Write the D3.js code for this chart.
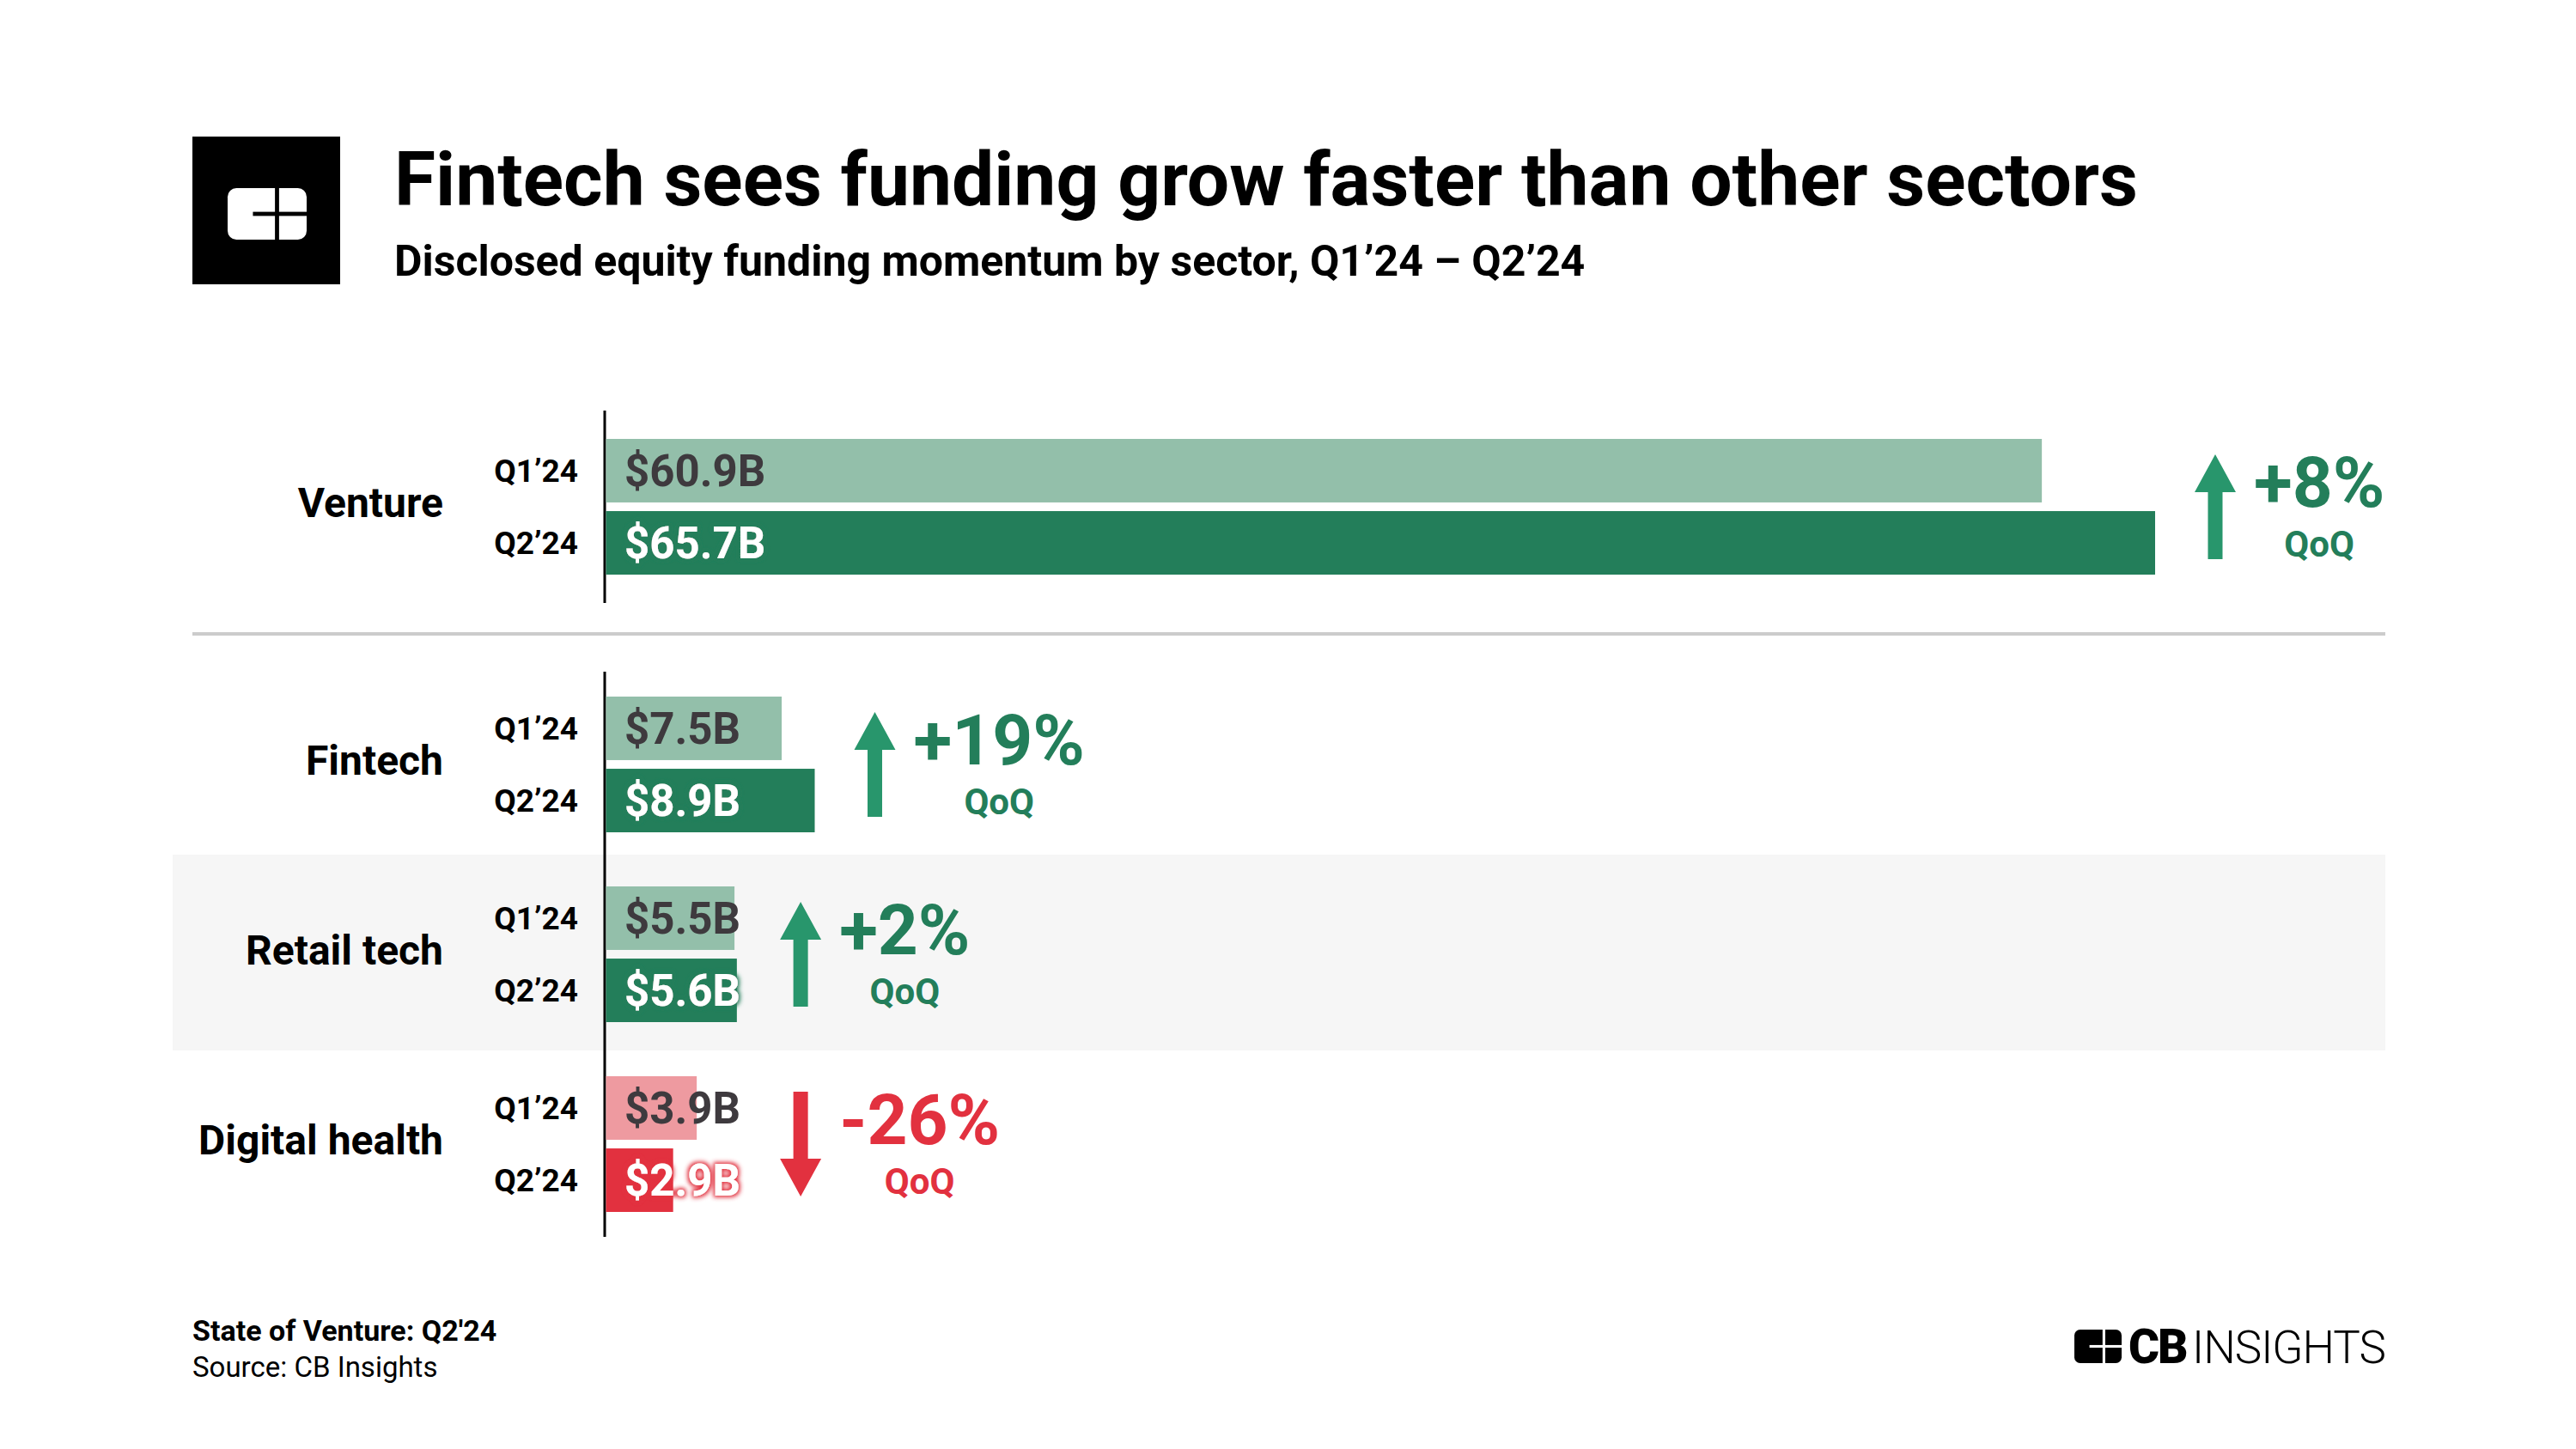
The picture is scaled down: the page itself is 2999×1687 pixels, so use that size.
<!DOCTYPE html>
<html><head><meta charset="utf-8">
<script src="https://cdn.jsdelivr.net/npm/d3@7"></script>
<style>html,body{margin:0;padding:0;background:#fff;} text{font-family:Roboto,"Noto Sans",sans-serif;}</style>
</head><body>
<script>
// ---- data ----
const sectors = ["Venture", "Fintech", "Retail tech", "Digital health"];
const q1Values = [60.9, 7.5, 5.5, 3.9];
const q2Values = [65.7, 8.9, 5.6, 2.9];
const qoqChange = [8, 19, 2, -26];
const periods = ["Q1’24", "Q2’24"];
const valueLabels1 = ["$60.9B", "$7.5B", "$5.5B", "$3.9B"];
const valueLabels2 = ["$65.7B", "$8.9B", "$5.6B", "$2.9B"];
const changeLabels = ["+8%", "+19%", "+2%", "-26%"];

const W = 2999, H = 1687;
const svg = d3.select("body").append("svg").attr("width", W).attr("height", H);

const C = {
  q1Up: "#93bfaa", q2Up: "#237e5a", arrowUp: "#28966c", textUp: "#237e5a",
  q1Down: "#ee9aa0", q2Down: "#e2313f", arrowDown: "#e2313f", textDown: "#e2313f",
  dark: "#3e3a3e"
};

const defs = svg.append("defs");
function glow(id, color) {
  const f = defs.append("filter").attr("id", id).attr("x", "-20%").attr("y", "-40%").attr("width", "140%").attr("height", "180%");
  f.append("feMorphology").attr("in", "SourceAlpha").attr("operator", "dilate").attr("radius", 2).attr("result", "d");
  f.append("feGaussianBlur").attr("in", "d").attr("stdDeviation", 2.5).attr("result", "b");
  f.append("feFlood").attr("flood-color", color).attr("result", "c");
  f.append("feComposite").attr("in", "c").attr("in2", "b").attr("operator", "in").attr("result", "s");
  const m = f.append("feMerge");
  m.append("feMergeNode").attr("in", "s");
  m.append("feMergeNode").attr("in", "SourceGraphic");
}
glow("glowUp", C.q2Up);
glow("glowDown", C.q2Down);

// ---- scales ----
const x = d3.scaleLinear().domain([0, d3.max(q2Values.concat(q1Values))]).range([704, 2509]);
const yLower = d3.scalePoint().domain(sectors.slice(1)).range([890, 1332]);
const yCenter = s => s === sectors[0] ? 590 : yLower(s);
const band = d3.scaleBand().domain(periods).range([-79, 79]).paddingInner(0.12);

// ---- header ----
function cbIcon(g, x0, y0, w, h, fg, bg) {
  g.append("rect").attr("x", x0).attr("y", y0).attr("width", w).attr("height", h)
    .attr("rx", h * 0.17).attr("fill", fg);
  const lw = Math.max(2, h * 0.08);
  g.append("rect").attr("x", x0 + w * 0.625 - lw / 2).attr("y", y0).attr("width", lw).attr("height", h).attr("fill", bg);
  g.append("rect").attr("x", x0 + w * 0.32).attr("y", y0 + h / 2 - lw / 2).attr("width", w * 0.68).attr("height", lw).attr("fill", bg);
}
svg.append("rect").attr("x", 224).attr("y", 159).attr("width", 172).attr("height", 172).attr("fill", "#000");
cbIcon(svg.append("g"), 265, 219, 92, 60, "#fff", "#000");

svg.append("text").attr("x", 459).attr("y", 239).attr("font-size", 87.5).attr("font-weight", 700)
  .attr("fill", "#000").text("Fintech sees funding grow faster than other sectors");
svg.append("text").attr("x", 459).attr("y", 321).attr("font-size", 50).attr("font-weight", 700)
  .attr("fill", "#000").text("Disclosed equity funding momentum by sector, Q1’24 – Q2’24");

// ---- backgrounds & rules ----
svg.append("rect").attr("x", 201).attr("y", yCenter(sectors[2]) - 116).attr("width", 2777 - 201).attr("height", 228)
  .attr("fill", "#f6f6f6");
svg.append("line").attr("x1", 224).attr("x2", 2777).attr("y1", 738).attr("y2", 738)
  .attr("stroke", "#cccccc").attr("stroke-width", 4);

// axis lines
svg.append("line").attr("x1", x(0)).attr("x2", x(0)).attr("y1", yCenter(sectors[0]) - 112).attr("y2", yCenter(sectors[0]) + 112)
  .attr("stroke", "#000").attr("stroke-width", 3);
svg.append("line").attr("x1", x(0)).attr("x2", x(0)).attr("y1", yCenter(sectors[1]) - 108).attr("y2", yCenter(sectors[3]) + 108)
  .attr("stroke", "#000").attr("stroke-width", 3);

// ---- groups ----
const rows = sectors.map((s, i) => ({
  sector: s, vals: [q1Values[i], q2Values[i]], labels: [valueLabels1[i], valueLabels2[i]],
  change: qoqChange[i], changeLabel: changeLabels[i]
}));

rows.forEach(r => {
  const cy = yCenter(r.sector);
  const up = r.change >= 0;
  const g = svg.append("g");
  g.append("text").attr("x", 516).attr("y", cy + 12).attr("text-anchor", "end")
    .attr("font-size", 48).attr("font-weight", 700).attr("fill", "#000").text(r.sector);

  let maxEnd = 0;
  periods.forEach((p, j) => {
    const by = cy + band(p);
    const bh = band.bandwidth();
    const fill = j === 0 ? (up ? C.q1Up : C.q1Down) : (up ? C.q2Up : C.q2Down);
    g.append("rect").attr("x", x(0) + 1.5).attr("y", by).attr("width", x(r.vals[j]) - x(0) - 1.5)
      .attr("height", bh).attr("fill", fill);
    g.append("text").attr("x", 673).attr("y", by + bh / 2 + 13).attr("text-anchor", "end")
      .attr("font-size", 37).attr("font-weight", 700).attr("fill", "#000").text(p);
    const t = g.append("text").attr("x", x(0) + 23).attr("y", by + bh / 2 + 18)
      .attr("font-size", 51).attr("font-weight", 700)
      .attr("fill", j === 0 ? C.dark : "#fff").text(r.labels[j]);
    if (j === 1) t.attr("filter", up ? "url(#glowUp)" : "url(#glowDown)");
    const bb = t.node().getBBox();
    maxEnd = Math.max(maxEnd, x(r.vals[j]), bb.x + bb.width);
  });

  // arrow
  const ax = maxEnd + 70;
  const len = 122, headH = 44, headW = 48, stem = 17;
  const top = cy - len / 2, bot = cy + len / 2;
  let path;
  if (up) {
    path = `M${ax},${top} L${ax + headW / 2},${top + headH} L${ax + stem / 2},${top + headH} L${ax + stem / 2},${bot} L${ax - stem / 2},${bot} L${ax - stem / 2},${top + headH} L${ax - headW / 2},${top + headH} Z`;
  } else {
    path = `M${ax},${bot} L${ax + headW / 2},${bot - headH} L${ax + stem / 2},${bot - headH} L${ax + stem / 2},${top} L${ax - stem / 2},${top} L${ax - stem / 2},${bot - headH} L${ax - headW / 2},${bot - headH} Z`;
  }
  g.append("path").attr("d", path).attr("fill", up ? C.arrowUp : C.arrowDown);

  const pct = g.append("text").attr("x", ax + 45).attr("y", cy).attr("font-size", 82).attr("font-weight", 700)
    .attr("fill", up ? C.textUp : C.textDown).text(r.changeLabel);
  const pb = pct.node().getBBox();
  g.append("text").attr("x", pb.x + pb.width / 2).attr("y", cy + 58).attr("text-anchor", "middle")
    .attr("font-size", 42).attr("font-weight", 700).attr("fill", up ? C.textUp : C.textDown).text("QoQ");
});

// ---- footer ----
svg.append("text").attr("x", 224).attr("y", 1561).attr("font-size", 34).attr("font-weight", 700).attr("fill", "#000")
  .text("State of Venture: Q2'24");
svg.append("text").attr("x", 224).attr("y", 1603).attr("font-size", 33).attr("font-weight", 400).attr("fill", "#000")
  .text("Source: CB Insights");

const lg = svg.append("g");
cbIcon(lg, 2415, 1548, 55, 39, "#000", "#fff");
lg.append("text").attr("x", 2478).attr("y", 1587).attr("font-size", 55).attr("font-weight", 900)
  .attr("font-family", "Roboto").attr("letter-spacing", -2).attr("fill", "#000").text("CB");
lg.append("text").attr("x", 2552).attr("y", 1587).attr("font-size", 53).attr("font-weight", 300)
  .attr("font-family", "Lato").attr("letter-spacing", -1).attr("fill", "#000").text("INSIGHTS");
</script>
</body></html>
